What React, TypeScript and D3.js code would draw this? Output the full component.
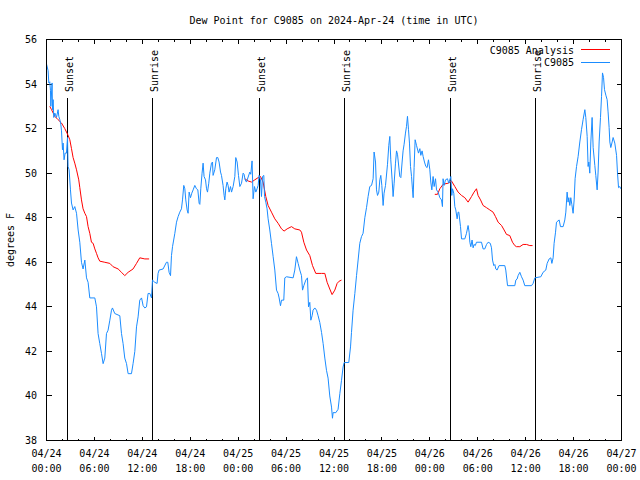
import React from 'react';
import * as d3 from 'd3';

const TITLE = 'Dew Point for C9085 on 2024-Apr-24 (time in UTC)';
const Y_LABEL = 'degrees F';
const START_UTC = Date.UTC(2024, 3, 24, 0, 0);
const END_HOURS = 72;

const yTicks = [38, 40, 42, 44, 46, 48, 50, 52, 54, 56];
const xMajorHours = [0, 6, 12, 18, 24, 30, 36, 42, 48, 54, 60, 66, 72];
const xMinorHours = [2, 4, 8, 10, 14, 16, 20, 22, 26, 28, 32, 34, 38, 40, 44, 46, 50, 52, 56, 58, 62, 64, 68, 70];

const sunsetHours = [2.65, 26.63, 50.65];
const sunriseHours = [13.27, 37.27, 61.23];

const legendLabels = ['C9085 Analysis', 'C9085'];
const seriesColors = ['#ff0000', '#1a8cff'];

// observed station dew point: [hours since 2024-04-24 00:00 UTC, degF]
const stationObs: [number, number][] = [
  [0.00, 54.9], [0.20, 54.6], [0.29, 54.05], [0.41, 54.1], [0.50, 53.7], [0.54, 53.0], [0.70, 54.05],
  [0.75, 52.85], [0.83, 53.3], [0.91, 52.5], [1.04, 52.7], [1.25, 52.5], [1.45, 52.85], [1.54, 52.55],
  [1.67, 52.4], [1.79, 52.2], [1.88, 51.9], [2.00, 51.05], [2.08, 51.35], [2.20, 50.6], [2.33, 50.9],
  [2.50, 50.9], [2.63, 51.6], [2.70, 50.3], [2.83, 50.15], [3.00, 49.25], [3.13, 48.66], [3.33, 48.35],
  [3.54, 48.5], [3.76, 48.2], [3.96, 47.45], [4.17, 46.9], [4.38, 46.0], [4.58, 45.7], [4.80, 46.1],
  [5.01, 45.3], [5.21, 45.1], [5.42, 44.4], [6.05, 44.4], [6.26, 44.0], [6.46, 42.8], [6.67, 42.35],
  [6.89, 41.9], [7.09, 41.45], [7.30, 41.7], [7.51, 42.8], [7.71, 42.95], [7.93, 43.4], [8.14, 43.85],
  [8.26, 43.95], [8.55, 43.7], [9.18, 43.6], [9.39, 42.8], [9.59, 42.35], [9.80, 41.7], [10.02, 41.45],
  [10.22, 41.0], [10.64, 41.0], [10.84, 41.45], [11.06, 42.0], [11.27, 43.1], [11.47, 43.55], [11.68, 44.3],
  [11.90, 44.4], [12.10, 44.05], [12.31, 43.95], [12.52, 44.0], [12.72, 44.6], [12.94, 44.6], [13.15, 44.4],
  [13.27, 45.2], [13.56, 45.1], [13.85, 45.05], [13.97, 45.5], [14.10, 45.65], [14.60, 45.7], [15.02, 46.0],
  [15.19, 46.0], [15.35, 45.55], [15.53, 45.4], [15.65, 46.3], [15.78, 46.7], [16.07, 47.3], [16.28, 47.8],
  [16.48, 48.05], [16.69, 48.25], [16.90, 48.4], [17.03, 48.8], [17.19, 49.45], [17.32, 49.3], [17.44, 48.8],
  [17.61, 48.35], [17.73, 48.2], [17.86, 49.15], [18.03, 48.9], [18.19, 49.1], [18.36, 49.25], [18.57, 49.45],
  [18.78, 49.3], [18.95, 49.25], [19.11, 48.65], [19.20, 48.6], [19.32, 49.3], [19.48, 50.0], [19.61, 50.45],
  [19.73, 49.85], [19.91, 49.7], [20.04, 49.3], [20.16, 49.15], [20.32, 49.55], [20.45, 50.0], [20.66, 50.45],
  [20.79, 50.5], [20.86, 49.9], [21.07, 50.15], [21.29, 50.7], [21.45, 50.7], [21.61, 50.5], [21.79, 50.05],
  [21.91, 49.9], [22.11, 49.45], [22.24, 49.0], [22.33, 48.8], [22.45, 49.3], [22.61, 49.6], [22.74, 49.45],
  [22.86, 49.15], [23.04, 49.4], [23.17, 49.15], [23.37, 49.4], [23.58, 49.85], [23.70, 50.7], [23.87, 50.5],
  [24.04, 49.9], [24.21, 49.4], [24.42, 49.55], [24.62, 50.0], [24.74, 49.95], [24.87, 49.7], [25.04, 49.6],
  [25.46, 50.05], [25.58, 49.95], [25.74, 50.55], [25.87, 48.85], [26.04, 49.4], [26.21, 49.15], [26.37, 49.3],
  [26.50, 49.45], [26.62, 49.9], [26.80, 49.7], [26.92, 48.95], [27.05, 49.85], [27.21, 49.9], [27.30, 48.95],
  [27.46, 48.7], [27.62, 48.4], [27.75, 47.95], [27.96, 47.45], [28.17, 46.85], [28.38, 46.25], [28.59, 45.65],
  [28.80, 44.75], [29.00, 44.6], [29.13, 44.4], [29.30, 44.05], [29.43, 44.3], [29.71, 44.3], [29.84, 45.3],
  [30.05, 45.35], [30.88, 45.3], [31.09, 45.65], [31.30, 46.25], [31.51, 45.95], [31.72, 45.65], [31.93, 45.4],
  [32.06, 44.75], [32.22, 44.95], [32.47, 45.2], [32.68, 45.3], [32.81, 44.0], [32.97, 44.2], [33.10, 43.4],
  [33.26, 43.6], [33.38, 43.85], [33.60, 43.95], [33.81, 43.85], [34.01, 43.6], [34.22, 43.3], [34.44, 42.85],
  [34.64, 42.35], [34.85, 41.7], [35.06, 41.15], [35.26, 40.8], [35.47, 40.0], [35.69, 39.5], [35.81, 39.0],
  [35.89, 39.25], [36.23, 39.25], [36.51, 39.4], [36.73, 40.1], [36.94, 40.7], [37.14, 41.3], [37.27, 41.5],
  [37.85, 41.5], [38.07, 42.2], [38.19, 42.85], [38.39, 43.85], [38.61, 44.6], [38.82, 45.4], [39.02, 46.1],
  [39.23, 46.85], [39.44, 47.15], [39.64, 47.3], [39.86, 48.0], [40.07, 48.45], [40.27, 48.95], [40.48, 49.4],
  [40.70, 49.45], [40.90, 49.75], [41.02, 50.95], [41.20, 50.5], [41.32, 49.25], [41.45, 49.0], [41.61, 49.15],
  [41.74, 49.7], [41.86, 49.9], [41.99, 49.45], [42.15, 48.55], [42.27, 49.1], [42.45, 49.45], [42.70, 50.4],
  [42.86, 51.25], [42.99, 51.65], [43.11, 50.6], [43.28, 49.7], [43.40, 48.95], [43.53, 49.55], [43.70, 50.45],
  [43.83, 51.0], [43.95, 50.85], [44.24, 49.85], [44.37, 49.8], [44.53, 50.5], [44.65, 51.0], [44.78, 51.3],
  [44.95, 51.8], [45.08, 52.1], [45.20, 52.55], [45.33, 51.95], [45.45, 51.35], [45.58, 50.3], [45.71, 49.85],
  [45.83, 49.25], [45.91, 48.9], [46.03, 50.25], [46.16, 51.5], [46.33, 51.25], [46.58, 50.9], [46.75, 51.1],
  [46.87, 50.8], [47.03, 51.0], [47.16, 50.75], [47.33, 50.5], [47.50, 50.3], [47.66, 50.25], [47.83, 50.6],
  [48.00, 50.15], [48.12, 49.6], [48.25, 49.25], [48.41, 49.85], [48.54, 49.4], [48.71, 49.75], [48.84, 49.25],
  [49.04, 49.15], [49.25, 48.9], [49.46, 48.8], [49.58, 48.5], [49.66, 49.75], [49.79, 49.45], [49.96, 49.7],
  [50.21, 49.75], [50.37, 49.55], [50.63, 49.85], [50.75, 49.0], [50.84, 49.3], [51.00, 49.1], [51.13, 48.5],
  [51.25, 48.35], [51.42, 47.95], [51.54, 48.25], [51.63, 48.25], [51.84, 47.6], [51.97, 47.05], [52.38, 47.05],
  [52.59, 47.3], [52.79, 47.65], [52.92, 47.35], [53.01, 46.9], [53.13, 46.7], [53.29, 47.0], [53.42, 46.65],
  [53.54, 46.8], [53.69, 46.75], [53.84, 46.9], [54.47, 46.9], [54.67, 46.6], [54.88, 46.6], [55.10, 46.8],
  [55.30, 46.9], [55.57, 46.85], [55.72, 46.65], [55.85, 46.1], [56.01, 45.85], [56.14, 45.9], [56.26, 45.7],
  [56.42, 45.65], [56.67, 45.85], [57.39, 45.85], [57.51, 45.65], [57.73, 44.95], [58.64, 44.95], [58.77, 45.2],
  [58.93, 45.25], [59.05, 45.4], [59.27, 45.55], [59.48, 45.35], [59.68, 45.2], [59.89, 44.95], [60.73, 44.95],
  [60.93, 45.05], [61.15, 45.3], [61.90, 45.35], [62.18, 45.55], [62.52, 45.65], [62.69, 45.95], [62.94, 46.15],
  [63.15, 46.2], [63.28, 45.95], [63.44, 46.2], [63.56, 46.85], [63.74, 47.35], [63.86, 47.8], [64.19, 47.9],
  [64.36, 47.6], [64.69, 47.6], [64.90, 47.9], [65.03, 48.25], [65.19, 49.15], [65.31, 48.7], [65.40, 48.9],
  [65.53, 48.55], [65.65, 48.9], [65.78, 48.6], [65.94, 48.2], [66.07, 48.8], [66.19, 49.75], [66.37, 50.3],
  [66.57, 50.75], [66.78, 51.4], [66.99, 51.95], [67.19, 52.4], [67.41, 52.85], [67.53, 52.5], [67.70, 51.65],
  [67.82, 50.3], [67.91, 50.5], [68.03, 50.0], [68.16, 51.4], [68.32, 52.5], [68.45, 51.15], [68.66, 50.35],
  [68.78, 49.9], [68.95, 49.25], [69.07, 50.05], [69.20, 51.4], [69.37, 52.5], [69.50, 53.45], [69.62, 54.5],
  [69.75, 54.3], [69.87, 53.75], [70.04, 53.5], [70.20, 53.3], [70.32, 52.75], [70.45, 52.05], [70.54, 51.4],
  [70.66, 51.15], [70.83, 51.4], [70.95, 51.6], [71.16, 51.35], [71.38, 50.8], [71.50, 50.0], [71.63, 49.35],
  [71.79, 49.4], [71.91, 49.3],
];

// analysis dew point, one run per night: [hours, degF]
const analysisNight1: [number, number][] = [
  [0.41, 53.0], [0.63, 52.85], [1.04, 52.55], [1.45, 52.4], [1.88, 52.25], [2.29, 52.0], [2.70, 51.7],
  [2.92, 51.5], [3.13, 51.1], [3.33, 50.7], [3.54, 50.45], [3.76, 50.15], [4.04, 49.7], [4.17, 49.35],
  [4.38, 48.8], [4.58, 48.4], [4.80, 48.2], [5.01, 48.05], [5.21, 47.6], [5.42, 47.3], [5.63, 46.9],
  [5.84, 46.85], [6.05, 46.6], [6.26, 46.4], [6.46, 46.2], [6.67, 46.05], [7.30, 46.0], [7.93, 45.95],
  [8.34, 45.8], [8.97, 45.7], [9.39, 45.55], [9.80, 45.4], [10.22, 45.55], [10.84, 45.7], [11.27, 45.95],
  [11.68, 46.2], [12.31, 46.15], [12.85, 46.15],
];
const analysisNight2: [number, number][] = [
  [24.83, 49.75], [25.24, 49.65], [25.67, 49.6], [26.08, 49.7], [26.50, 49.8], [26.80, 49.85], [27.12, 49.6],
  [27.46, 48.95], [27.75, 48.55], [28.17, 48.25], [28.59, 47.95], [29.00, 47.75], [29.43, 47.5], [29.75, 47.4],
  [30.13, 47.5], [30.68, 47.6], [31.09, 47.5], [31.72, 47.45], [31.93, 47.35], [32.22, 46.9], [32.56, 46.55],
  [32.97, 46.3], [33.31, 45.85], [33.72, 45.5], [34.44, 45.5], [34.85, 45.5], [35.14, 45.1], [35.47, 44.8],
  [35.76, 44.55], [36.10, 44.75], [36.39, 45.05], [36.64, 45.15], [36.94, 45.2],
];
const analysisNight3: [number, number][] = [
  [48.62, 49.05], [48.96, 49.05], [49.25, 49.3], [49.66, 49.5], [50.29, 49.55], [50.71, 49.65], [51.13, 49.4],
  [51.54, 49.15], [51.97, 49.0], [52.38, 48.9], [52.79, 48.7], [53.22, 48.95], [53.54, 49.15], [53.84, 49.3],
  [54.04, 49.0], [54.35, 48.8], [54.67, 48.55], [55.10, 48.45], [55.51, 48.35], [55.92, 48.25], [56.22, 48.05],
  [56.55, 47.8], [56.98, 47.65], [57.30, 47.45], [57.60, 47.25], [58.01, 47.2], [58.35, 46.9], [58.64, 46.75],
  [58.85, 46.7], [59.27, 46.7], [59.68, 46.8], [60.11, 46.8], [60.52, 46.75], [60.86, 46.75],
];

const FONT = '"DejaVu Sans Mono", "Liberation Mono", monospace';
const W = 640;
const H = 480;
const X0 = 46.5, X1 = 621.5, Y0 = 39.5, Y1 = 440.5;

const toDate = (h: number) => new Date(START_UTC + h * 3600 * 1000);

export default function App() {
  const x = d3.scaleUtc().domain([toDate(0), toDate(END_HOURS)]).range([X0, X1]);
  const y = d3.scaleLinear().domain([38, 56]).range([Y1, Y0]);
  const line = d3.line<[number, number]>()
    .x(d => x(toDate(d[0])))
    .y(d => y(d[1]));
  const fmtDate = d3.utcFormat('%m/%d');
  const fmtTime = d3.utcFormat('%H:%M');
  const sx = (h: number) => Math.round(x(toDate(h)) - 0.5) + 0.5;

  const sunLines = [
    ...sunsetHours.map(h => ({ h, label: 'Sunset' })),
    ...sunriseHours.map(h => ({ h, label: 'Sunrise' })),
  ];

  return (
    <svg width={W} height={H} style={{ position: 'absolute', left: 0, top: 0, background: '#fff' }}
      fontFamily={FONT} fontSize={10}>
      <rect x={0} y={0} width={W} height={H} fill="#fff" />
      <text x={(X0 + X1) / 2} y={20} textAnchor="middle" dominantBaseline="central">{TITLE}</text>
      <text transform={`translate(10,240) rotate(-90)`} textAnchor="middle" dominantBaseline="central">{Y_LABEL}</text>

      <g shapeRendering="crispEdges" stroke="#000" strokeWidth={1}>
        {yTicks.map(t => (
          <g key={'yt' + t}>
            <line x1={X0} x2={X0 + 5} y1={Math.round(y(t) - 0.5) + 0.5} y2={Math.round(y(t) - 0.5) + 0.5} />
            <line x1={X1 - 5} x2={X1} y1={Math.round(y(t) - 0.5) + 0.5} y2={Math.round(y(t) - 0.5) + 0.5} />
          </g>
        ))}
        {xMajorHours.map(h => (
          <g key={'xM' + h}>
            <line x1={sx(h)} x2={sx(h)} y1={Y1} y2={Y1 - 4} />
            <line x1={sx(h)} x2={sx(h)} y1={Y0} y2={Y0 + 4} />
          </g>
        ))}
        {xMinorHours.map(h => (
          <g key={'xm' + h}>
            <line x1={sx(h)} x2={sx(h)} y1={Y1} y2={Y1 - 2} />
            <line x1={sx(h)} x2={sx(h)} y1={Y0} y2={Y0 + 2} />
          </g>
        ))}
        {sunLines.map((s, i) => (
          <line key={'sl' + i} x1={sx(s.h)} x2={sx(s.h)} y1={98} y2={Y1} />
        ))}
      </g>

      {yTicks.map(t => (
        <text key={'yl' + t} x={37} y={y(t)} textAnchor="end" dominantBaseline="central">{t}</text>
      ))}
      {xMajorHours.map(h => (
        <g key={'xl' + h}>
          <text x={x(toDate(h))} y={453.5} textAnchor="middle" dominantBaseline="central">{fmtDate(toDate(h))}</text>
          <text x={x(toDate(h))} y={468} textAnchor="middle" dominantBaseline="central">{fmtTime(toDate(h))}</text>
        </g>
      ))}
      {sunLines.map((s, i) => (
        <text key={'st' + i} transform={`translate(${sx(s.h) + 1.5},92) rotate(-90)`} textAnchor="start"
          dominantBaseline="central">{s.label}</text>
      ))}

      <g fill="none" strokeWidth={1}>
        {[analysisNight1, analysisNight2, analysisNight3].map((seg, i) => (
          <path key={'an' + i} d={line(seg) || ''} stroke={seriesColors[0]} />
        ))}
        <path d={line(stationObs) || ''} stroke={seriesColors[1]} />
      </g>

      {legendLabels.map((lab, i) => (
        <g key={'lg' + i}>
          <text x={574} y={50 + i * 12.5} textAnchor="end" dominantBaseline="central">{lab}</text>
          <line x1={581} x2={610} y1={49.5 + i * 12.5} y2={49.5 + i * 12.5} stroke={seriesColors[i]} shapeRendering="crispEdges" />
        </g>
      ))}

      <rect x={X0} y={Y0} width={X1 - X0} height={Y1 - Y0} fill="none" stroke="#000" shapeRendering="crispEdges" />
    </svg>
  );
}
